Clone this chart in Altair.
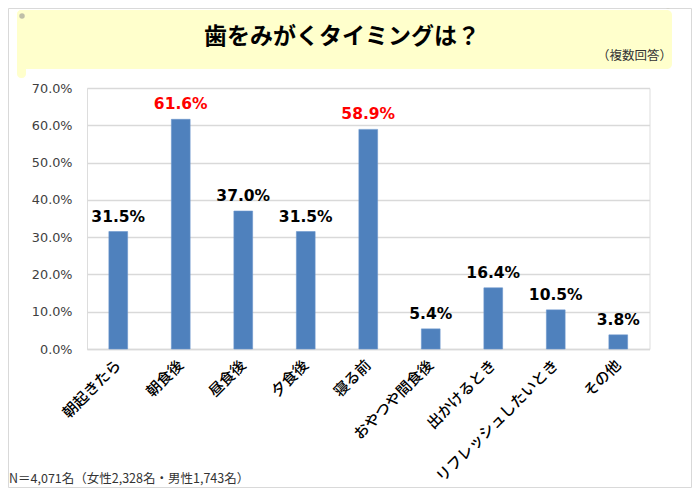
import altair as alt
import pandas as pd

categories = ["朝起きたら", "朝食後", "昼食後", "夕食後", "寝る前",
              "おやつや間食後", "出かけるとき", "リフレッシュしたいとき", "その他"]
values = [31.5, 61.6, 37.0, 31.5, 58.9, 5.4, 16.4, 10.5, 3.8]
y_ticks = [0, 10, 20, 30, 40, 50, 60, 70]
title_text = "歯をみがくタイミングは？"
note_text = "（複数回答）"
footer_text = "N＝4,071名（女性2,328名・男性1,743名）"

df = pd.DataFrame({"cat": categories, "val": values})
df["label"] = [f"{v:.1f}%" for v in values]

W, H = 562.5, 261
PAD_L, PAD_T = 79, 80
SVG_W, SVG_H = 684, 480

one = alt.Data(values=[{"k": 1}])
JP = "Noto Sans CJK JP"

border = alt.Chart(one).mark_rect(fill="white", fillOpacity=0, stroke="#D9D9D9", strokeWidth=1).encode(
    x=alt.value(-PAD_L + 0.5), x2=alt.value(SVG_W - PAD_L - 0.5),
    y=alt.value(-PAD_T + 0.5), y2=alt.value(SVG_H - PAD_T - 0.5))

banner = alt.Chart(one).mark_rect(fill="#FFFFCC", cornerRadius=5).encode(
    x=alt.value(-70), x2=alt.value(585), y=alt.value(-78), y2=alt.value(-19))
strip = alt.Chart(one).mark_rect(fill="#FFFFCC", cornerRadius=4).encode(
    x=alt.value(-70), x2=alt.value(-61), y=alt.value(-78), y2=alt.value(-10))
curl1 = alt.Chart(one).mark_point(filled=True, shape="circle", size=30, color="#BFBFA8", opacity=1).encode(
    x=alt.value(-65), y=alt.value(-72))
curl2 = alt.Chart(one).mark_point(filled=True, shape="circle", size=45, color="#BFBFA8", opacity=1).encode(
    x=alt.value(581), y=alt.value(-83))

title = alt.Chart(one).mark_text(font=JP, fontSize=23, fontWeight="bold", color="#000000",
                                 align="center", baseline="middle").encode(
    x=alt.value(255), y=alt.value(-51), text=alt.value(title_text))
note = alt.Chart(one).mark_text(font=JP, fontSize=12.5, color="#333333",
                                align="right", baseline="middle").encode(
    x=alt.value(585), y=alt.value(-32), text=alt.value(note_text))
footer = alt.Chart(one).mark_text(font=JP, fontSize=12.5, color="#333333",
                                  align="left", baseline="middle").encode(
    x=alt.value(-78), y=alt.value(391), text=alt.value(footer_text))

base = alt.Chart(df).encode(
    x=alt.X("cat:N", sort=categories, title=None,
            scale=alt.Scale(paddingInner=0.7, paddingOuter=0.35),
            axis=alt.Axis(labelAngle=-45, labelAlign="right", labelBaseline="middle",
                          labelFont=JP, labelFontSize=15, labelFontWeight=500, labelColor="#000000",
                          labelPadding=13, labelLimit=300, ticks=False, domain=True,
                          domainColor="#D9D9D9", domainWidth=1.5, grid=False)),
    y=alt.Y("val:Q", title=None, scale=alt.Scale(domain=[0, 70], nice=False),
            axis=alt.Axis(values=y_ticks, labelExpr="format(datum.value,'.1f')+'%'",
                          labelFont="DejaVu Sans", labelFontSize=12.8, labelColor="#404040",
                          labelPadding=15, ticks=False, domain=False,
                          grid=True, gridColor="#D9D9D9", gridWidth=1.5)),
)

bars = base.mark_bar(color="#4F81BD", stroke="#6A96CC", strokeWidth=0.6)
labels = base.mark_text(dy=-7, baseline="bottom", align="center", font="DejaVu Sans",
                        fontWeight="bold", fontSize=15.5).encode(
    text="label:N",
    color=alt.condition("datum.val > 50", alt.value("#FF0000"), alt.value("#000000")))

chart = alt.layer(border, banner, strip, curl1, curl2, title, note, footer, bars, labels).properties(
    width=W, height=H,
    padding={"left": PAD_L, "top": PAD_T, "right": SVG_W - PAD_L - W, "bottom": SVG_H - PAD_T - H},
    autosize=alt.AutoSizeParams(type="none"),
).configure_view(stroke=None).configure(background="white")

chart.save("out.html", embed_options={"renderer": "svg", "actions": False})
